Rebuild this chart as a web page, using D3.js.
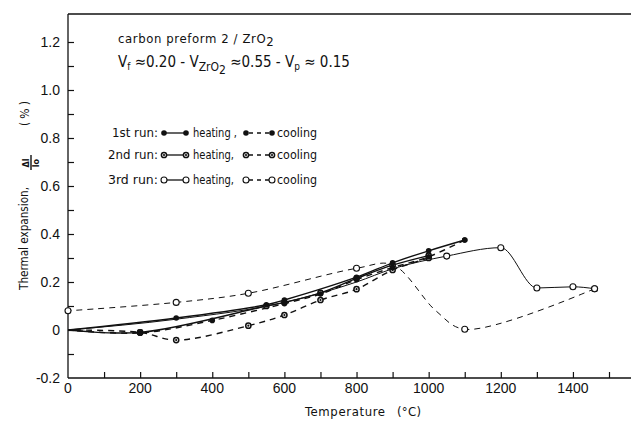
<!DOCTYPE html>
<html><head><meta charset="utf-8">
<script src="https://cdn.jsdelivr.net/npm/d3@7"></script>
<style>
body{margin:0;background:#fff;}
svg{display:block;}
.tk{font-family:"Liberation Sans",Arial,sans-serif;font-size:14px;fill:#111;}
.nar{font-family:"DejaVu Sans Condensed","DejaVu Sans",sans-serif;fill:#111;}
</style></head>
<body>
<svg id="c" width="631" height="421"></svg>
<script>
// ---- data (temperature °C, thermal expansion %) ----
const xTicks = [0,200,400,600,800,1000,1200,1400];
const yTicks = [-0.2,0,0.2,0.4,0.6,0.8,1.0,1.2];
const yTickLabels = ["-0.2","0","0.2","0.4","0.6","0.8","1.0","1.2"];

const run1HeatT = [0, 300, 550, 600, 800, 900, 1000, 1100];
const run1HeatV = [0, 0.05, 0.105, 0.125, 0.22, 0.28, 0.33, 0.375];
const run1HeatM = [false, true, true, true, true, true, true, true];

const run1CoolT = [1100, 1000, 900, 800, 700, 600, 400, 200, 0];
const run1CoolV = [0.375, 0.305, 0.26, 0.21, 0.15, 0.11, 0.04, -0.012, 0];
const run1CoolM = [true, true, true, true, true, true, true, true, false];

const run2HeatT = [0, 200, 550, 600, 700, 800, 900, 1000];
const run2HeatV = [0, -0.01, 0.1, 0.115, 0.155, 0.215, 0.27, 0.31];
const run2HeatM = [false, true, true, true, true, true, true, true];

const run2CoolT = [1000, 900, 800, 700, 600, 500, 300, 200, 0];
const run2CoolV = [0.3, 0.25, 0.17, 0.125, 0.0625, 0.018, -0.042, -0.01, 0];
const run2CoolM = [true, true, true, true, true, true, true, true, false];

const run3HeatT = [0, 300, 600, 800, 900, 1050, 1200, 1300, 1400, 1460];
const run3HeatV = [0, 0.045, 0.115, 0.2, 0.255, 0.308, 0.343, 0.175, 0.18, 0.172];
const run3HeatM = [false, false, false, false, false, true, true, true, true, true];

const run3CoolT = [1460, 1100, 1020, 900, 800, 500, 300, 0];
const run3CoolV = [0.172, 0.003, 0.08, 0.272, 0.257, 0.153, 0.115, 0.08];
const run3CoolM = [true, true, false, false, true, true, true, true];

// ---- scales ----
const svg = d3.select("#c");
const x = d3.scaleLinear().domain([0,1500]).range([68,609]);
const y = d3.scaleLinear().domain([-0.2,1.2]).range([378,42]);

// frame
svg.append("line").attr("x1",68).attr("x2",631).attr("y1",14).attr("y2",14).attr("stroke","#111").attr("stroke-width",1.3);
svg.append("line").attr("x1",68).attr("x2",68).attr("y1",14).attr("y2",378).attr("stroke","#111").attr("stroke-width",1.3);
svg.append("line").attr("x1",68).attr("x2",631).attr("y1",378).attr("y2",378).attr("stroke","#111").attr("stroke-width",1.3);

// axes via d3
const xAx = d3.axisBottom(x).tickValues(d3.range(100,1600,100)).tickSize(-6).tickFormat("");
svg.append("g").attr("transform","translate(0,378)").call(xAx)
  .call(g=>{g.select(".domain").remove();g.selectAll("line").attr("stroke","#111").attr("stroke-width",1.2);});
const yAx = d3.axisLeft(y).tickValues(d3.range(-1,13).map(i=>i/10)).tickSize(-6).tickFormat("");
svg.append("g").attr("transform","translate(68,0)").call(yAx)
  .call(g=>{g.select(".domain").remove();g.selectAll("line").attr("stroke","#111").attr("stroke-width",1.2);});

// tick labels
svg.selectAll(".xl").data(xTicks).enter().append("text").attr("class","tk")
  .attr("x",d=>x(d)).attr("y",393).attr("text-anchor","middle").text(d=>d);
svg.selectAll(".yl").data(yTicks).enter().append("text").attr("class","tk")
  .attr("x",60).attr("y",d=>y(d)+5).attr("text-anchor","end").text((d,i)=>yTickLabels[i]);

// axis titles
svg.append("text").attr("class","nar").attr("x",305).attr("y",416)
  .style("font-size","13px").attr("textLength",80).attr("lengthAdjust","spacing").text("Temperature");
svg.append("text").attr("class","nar").attr("x",397).attr("y",416)
  .style("font-size","13px").attr("textLength",24).attr("lengthAdjust","spacing").text("(°C)");
const yl = svg.append("g").attr("transform","translate(28,290) rotate(-90)");
yl.append("text").attr("class","nar").style("font-size","12px")
  .attr("x",0).attr("y",0).attr("textLength",103).attr("lengthAdjust","spacingAndGlyphs").text("Thermal expansion,");
yl.append("text").attr("class","nar").style("font-size","9px").style("font-weight","bold")
  .attr("x",127).attr("y",1).attr("text-anchor","middle").text("Δl");
yl.append("line").attr("x1",120).attr("x2",135).attr("y1",3).attr("y2",3).attr("stroke","#111").attr("stroke-width",1.4);
yl.append("text").attr("class","nar").style("font-size","9px").style("font-weight","bold")
  .attr("x",127).attr("y",10.5).attr("text-anchor","middle").text("lo");
yl.append("text").attr("class","nar").style("font-size","12px")
  .attr("x",164).attr("y",1).attr("textLength",25).attr("lengthAdjust","spacing").text("(%)");

// annotation
svg.append("text").attr("class","nar").attr("x",118).attr("y",43).style("font-size","13px")
  .style("letter-spacing","0.6px")
  .html('carbon preform 2 / ZrO<tspan dy="3">2</tspan>');
svg.append("text").attr("class","nar").attr("x",118).attr("y",67).style("font-size","15px")
  .html('V<tspan dy="3" font-size="10">f</tspan><tspan dy="-3"> ≈0.20  -  V</tspan><tspan dy="4" font-size="12">ZrO</tspan><tspan dy="3" font-size="12">2</tspan><tspan dy="-7"> ≈0.55  -  V</tspan><tspan dy="3" font-size="10">p</tspan><tspan dy="-3"> ≈ 0.15</tspan>');

// marker styles
function marker(g, cx, cy, kind){
  if(kind===1){
    g.append("circle").attr("cx",cx).attr("cy",cy).attr("r",2.8).attr("fill","#111");
  } else if(kind===2){
    g.append("circle").attr("cx",cx).attr("cy",cy).attr("r",2.6).attr("fill","#fff").attr("stroke","#111").attr("stroke-width",1.5);
    g.append("circle").attr("cx",cx).attr("cy",cy).attr("r",1.1).attr("fill","#111");
  } else {
    g.append("circle").attr("cx",cx).attr("cy",cy).attr("r",3).attr("fill","#fff").attr("stroke","#111").attr("stroke-width",1.1);
  }
}

const series = [
  {t:run3CoolT,v:run3CoolV,m:run3CoolM,kind:3,dash:true,curve:d3.curveCatmullRom.alpha(0.5)},
  {t:run3HeatT,v:run3HeatV,m:run3HeatM,kind:3,dash:false,curve:d3.curveMonotoneX},
  {t:run2CoolT,v:run2CoolV,m:run2CoolM,kind:2,dash:true,curve:d3.curveCatmullRom.alpha(0.5)},
  {t:run2HeatT,v:run2HeatV,m:run2HeatM,kind:2,dash:false,curve:d3.curveCatmullRom.alpha(0.5)},
  {t:run1CoolT,v:run1CoolV,m:run1CoolM,kind:1,dash:true,curve:d3.curveCatmullRom.alpha(0.5)},
  {t:run1HeatT,v:run1HeatV,m:run1HeatM,kind:1,dash:false,curve:d3.curveCatmullRom.alpha(0.5)}
];
const plot = svg.append("g");
series.forEach(s=>{
  const pts = s.t.map((t,i)=>[t,s.v[i],s.m[i]]);
  const line = d3.line().x(d=>x(d[0])).y(d=>y(d[1])).curve(s.curve);
  plot.append("path").attr("d",line(pts)).attr("fill","none").attr("stroke","#111")
    .attr("stroke-width",s.kind===3?1:1.4).attr("stroke-dasharray",s.dash?"6,5":null);
});
series.forEach(s=>{
  s.t.forEach((t,i)=>{ if(s.m[i]) marker(plot, x(t), y(s.v[i]), s.kind); });
});

// legend
const legRows = [
  {label:"1st run:", kind:1, y:133, h:"heating ,", c:"cooling", lx:112},
  {label:"2nd run:", kind:2, y:155, h:"heating,", c:"cooling", lx:108},
  {label:"3rd run:", kind:3, y:180, h:"heating,", c:"cooling", lx:108}
];
const lg = svg.append("g");
legRows.forEach(r=>{
  lg.append("text").attr("class","nar").attr("x",r.lx).attr("y",r.y+4)
    .attr("textLength",158-r.lx).attr("lengthAdjust","spacingAndGlyphs")
    .style("font-size","13px").text(r.label);
  lg.append("line").attr("x1",164).attr("x2",186).attr("y1",r.y).attr("y2",r.y).attr("stroke","#111").attr("stroke-width",1.3);
  marker(lg,164,r.y,r.kind); marker(lg,186,r.y,r.kind);
  lg.append("text").attr("class","nar").attr("x",193).attr("y",r.y+4)
    .attr("textLength",r.h.length===9?44:41).attr("lengthAdjust","spacingAndGlyphs")
    .style("font-size","13px").text(r.h);
  lg.append("line").attr("x1",247).attr("x2",272).attr("y1",r.y).attr("y2",r.y).attr("stroke","#111").attr("stroke-width",1.3).attr("stroke-dasharray","4,4").attr("stroke-dashoffset",-2);
  marker(lg,246,r.y,r.kind); marker(lg,272,r.y,r.kind);
  lg.append("text").attr("class","nar").attr("x",277).attr("y",r.y+4)
    .attr("textLength",40).attr("lengthAdjust","spacingAndGlyphs")
    .style("font-size","13px").text(r.c);
});
</script>
</body></html>
